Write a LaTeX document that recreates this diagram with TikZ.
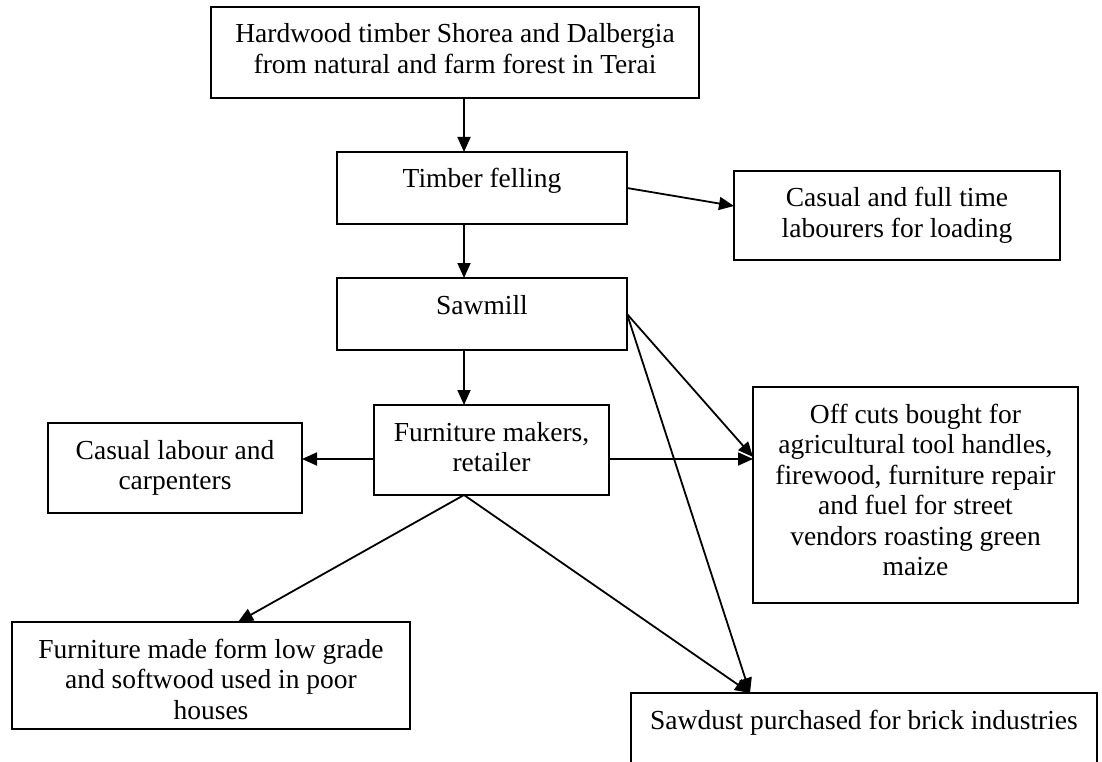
\documentclass[tikz,border=0pt]{standalone}
\usepackage{fontspec}
\setmainfont{Liberation Serif}
\usetikzlibrary{arrows.meta}
% text block of a stage box: width, height, lines (top aligned, centred)
\newcommand\boxlines[3]{\parbox[c][#2pt][t]{#1pt}{\centering\rule{0pt}{36pt}#3}}
\begin{document}
\begin{tikzpicture}[x=1pt,y=-1pt,
  font=\fontsize{27.5pt}{30.5pt}\selectfont,
  stage/.style={draw, line width=2pt, inner sep=0pt, outer sep=0pt},
  flow/.style={line width=1.8pt, -{Triangle[length=15pt,width=13pt]}}]
\clip (0,0) rectangle (1102,762);
\fill[white] (0,0) rectangle (1102,762);

% stages
\node[stage] (top) at (455,52.5)
  {\boxlines{488}{91}{Hardwood timber Shorea and Dalbergia\\from natural and farm forest in Terai}};
\node[stage] (fell) at (482,188) {\boxlines{290}{72}{Timber felling}};
\node[stage] (lab) at (897,215.5)
  {\boxlines{326}{89}{Casual and full time\\labourers for loading}};
\node[stage] (saw) at (482,314) {\boxlines{290}{72}{Sawmill}};
\node[stage] (fm) at (491.5,450) {\boxlines{235}{90}{Furniture makers,\\retailer}};
\node[stage] (cas) at (175,468) {\boxlines{254}{90}{Casual labour and\\carpenters}};
\node[stage] (off) at (915.5,495)
  {\boxlines{325}{216}{Off cuts bought for\\agricultural tool handles,\\firewood, furniture repair\\and fuel for street\\vendors roasting green\\maize}};
\node[stage] (fmade) at (211,675.5)
  {\boxlines{398}{107}{Furniture made form low grade\\and softwood used in poor\\houses}};
\node[stage] (dust) at (864,743) {\boxlines{466}{100}{Sawdust purchased for brick industries}};

% connector anchors
\coordinate (spine) at (464,0);
\coordinate (dustin) at ([xshift=-114pt]dust.north);
\coordinate (offin) at ([yshift=38pt]off.west);
\coordinate (fmout) at (fm.south -| spine);

% flows
\draw[flow] (top.south -| spine) -- (fell.north -| spine);
\draw[flow] (fell.east) -- ([yshift=9.5pt]lab.west);
\draw[flow] (fell.south -| spine) -- (saw.north -| spine);
\draw[flow] (saw.south -| spine) -- (fm.north -| spine);
\draw[flow] ([yshift=-9pt]fm.west) -- ([yshift=-9pt]fm.west -| cas.east);
\draw[flow] ([yshift=-9pt]fm.east) -- ([yshift=-9pt]fm.east -| off.west);
\draw[flow] (saw.east) -- (offin);
\draw[flow] (saw.east) -- (dustin);
\draw[flow] (fmout) -- ([xshift=27pt]fmade.north);
\draw[flow] (fmout) -- (dustin);
\end{tikzpicture}
\end{document}
